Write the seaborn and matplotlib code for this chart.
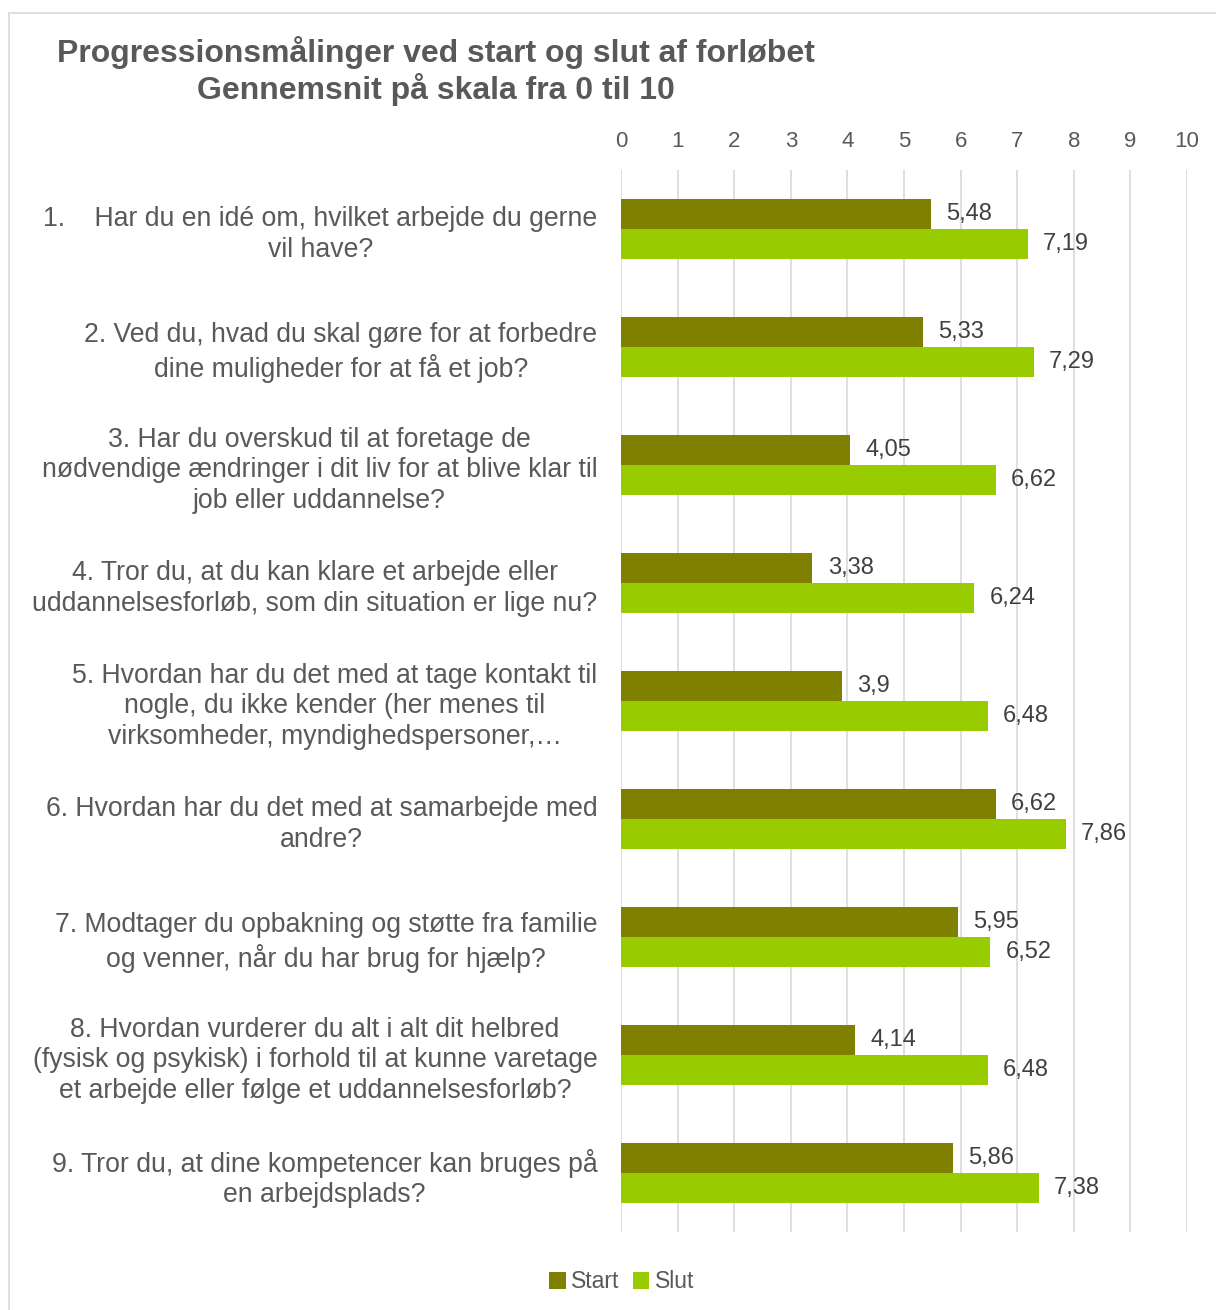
import matplotlib
matplotlib.use("Agg")
import matplotlib.pyplot as plt
import seaborn as sns
import pandas as pd
from matplotlib.patches import Patch
from matplotlib.lines import Line2D

categories = [
    "1.    Har du en idé om, hvilket arbejde du gerne\nvil have?",
    "2. Ved du, hvad du skal gøre for at forbedre\ndine muligheder for at få et job?",
    "3. Har du overskud til at foretage de\nnødvendige ændringer i dit liv for at blive klar til\njob eller uddannelse?",
    "4. Tror du, at du kan klare et arbejde eller\nuddannelsesforløb, som din situation er lige nu?",
    "5. Hvordan har du det med at tage kontakt til\nnogle, du ikke kender (her menes til\nvirksomheder, myndighedspersoner,…",
    "6. Hvordan har du det med at samarbejde med\nandre?",
    "7. Modtager du opbakning og støtte fra familie\nog venner, når du har brug for hjælp?",
    "8. Hvordan vurderer du alt i alt dit helbred\n(fysisk og psykisk) i forhold til at kunne varetage\net arbejde eller følge et uddannelsesforløb?",
    "9. Tror du, at dine kompetencer kan bruges på\nen arbejdsplads?",
]
start_values = [5.48, 5.33, 4.05, 3.38, 3.9, 6.62, 5.95, 4.14, 5.86]
slut_values = [7.19, 7.29, 6.62, 6.24, 6.48, 7.86, 6.52, 6.48, 7.38]
series_names = ["Start", "Slut"]
colors = ["#808000", "#99CC00"]
x_ticks = list(range(0, 11))
title = "Progressionsmålinger ved start og slut af forløbet\nGennemsnit på skala fra 0 til 10"

df = pd.DataFrame({
    "Spørgsmål": categories * 2,
    "Serie": [series_names[0]] * len(categories) + [series_names[1]] * len(categories),
    "Værdi": start_values + slut_values,
})

sns.set_theme(style="white")
plt.rcParams["font.family"] = ["Liberation Sans", "DejaVu Sans"]

W, H = 1216, 1310
fig = plt.figure(figsize=(W / 100, H / 100), dpi=100)
left, right, top, bottom = 621, 1187, 170, 1232
ax = fig.add_axes([left / W, 1 - bottom / H, (right - left) / W, (bottom - top) / H])

sns.barplot(data=df, y="Spørgsmål", x="Værdi", hue="Serie", palette=colors,
            order=categories, hue_order=series_names, orient="h",
            width=0.51, ax=ax, legend=False, saturation=1, edgecolor="none")

ax.set_xlim(0, 10)
ax.set_ylim(len(categories) - 0.5, -0.5)
ax.set_xticks(x_ticks)
ax.xaxis.tick_top()
ax.set_xlabel("")
ax.set_ylabel("")
ax.grid(axis="x", color="#D9D9D9", linewidth=1.2)
ax.set_axisbelow(True)
for s in ax.spines.values():
    s.set_visible(False)
ax.tick_params(axis="x", length=0, pad=13, labelsize=16, labelcolor="#595959")
ax.tick_params(axis="y", length=0, pad=17, labelsize=19.2, labelcolor="#595959")
for t in ax.get_yticklabels():
    t.set_multialignment("center")
    t.set_linespacing(1.24)

for cont in ax.containers:
    ax.bar_label(cont, labels=[f"{v:g}".replace(".", ",") for v in cont.datavalues],
                 padding=11, fontsize=17, color="#404040")

fig.text(436 / W, 1 - 71 / H, title, ha="center", va="center", fontsize=23,
         fontweight="bold", color="#595959", linespacing=1.15)

handles = [Patch(facecolor=c, edgecolor="none") for c in colors]
fig.legend(handles, series_names, loc="center", bbox_to_anchor=(622 / W, 1 - 1282 / H),
           ncol=2, frameon=False, handlelength=0.7, handleheight=0.7,
           handletextpad=0.25, columnspacing=0.6, fontsize=16.5, labelcolor="#595959")

fig.add_artist(Line2D([9 / W, 9 / W], [0, 1 - 13 / H], transform=fig.transFigure, color="#D9D9D9", lw=1.2))
fig.add_artist(Line2D([9 / W, 1], [1 - 13 / H, 1 - 13 / H], transform=fig.transFigure, color="#D9D9D9", lw=1.2))

fig.savefig("out.png", dpi=100)
